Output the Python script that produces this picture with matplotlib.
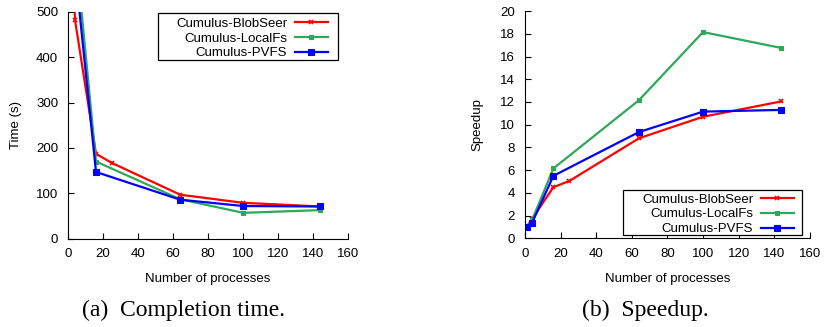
import matplotlib
matplotlib.use("Agg")
import matplotlib.pyplot as plt
from matplotlib.patches import Rectangle

# number of processes
procs = [1, 4, 16, 25, 64, 100, 144]
procs_short = [1, 4, 16, 64, 100, 144]

# completion time (s)
time_blobseer = [850, 482, 187, 167, 97, 79, 71]
time_localfs = [1040, 650, 170, 87, 57, 63]
time_pvfs = [805, 596, 147, 86, 72, 71]

# speedup
speedup_blobseer = [1.0, 1.7, 4.5, 5.05, 8.8, 10.7, 12.05]
speedup_localfs = [1.0, 1.6, 6.15, 12.15, 18.15, 16.75]
speedup_pvfs = [1.0, 1.35, 5.5, 9.35, 11.15, 11.3]

labels = ["Cumulus-BlobSeer", "Cumulus-LocalFs", "Cumulus-PVFS"]
colors = ["#ff0000", "#2fa85a", "#0000ff"]

plt.rcParams['font.family'] = ['Liberation Sans', 'DejaVu Sans']
plt.rcParams['font.size'] = 9.5

fig = plt.figure(figsize=(8.24, 3.27), dpi=100)
ax1 = fig.add_axes([0.0825, 0.270, 0.3403, 0.694])
ax2 = fig.add_axes([0.637, 0.2712, 0.3459, 0.695])


def draw(ax, ys, xs):
    styles = [dict(marker='x', ms=3, mew=1.2),
              dict(marker='s', ms=2.2, mew=0.8),
              dict(marker='s', ms=4.3, mew=0.8)]
    for y, x, lab, c, st in zip(ys, xs, labels, colors, styles):
        ax.plot(x, y, color=c, lw=1.6, label=lab, **st)
    for s in ['top', 'right']:
        ax.spines[s].set_visible(False)
    ax.tick_params(direction='in', length=4, width=0.8, pad=7)
    ax.set_xlim(0, 160)
    ax.set_xticks(range(0, 161, 20))
    ax.set_xlabel("Number of processes", labelpad=9)


def legend_box(ax, box, anchor, loc):
    # gnuplot style key: text right aligned, sample line on the right
    x0, y0, x1, y1 = box
    ax.add_patch(Rectangle((x0, y0), x1 - x0, y1 - y0, transform=ax.transAxes,
                           facecolor='white', edgecolor='black', lw=0.9,
                           zorder=4.5, clip_on=False))
    ax.legend(loc=loc, bbox_to_anchor=anchor, borderaxespad=0, borderpad=0,
              markerfirst=False, frameon=False, handlelength=2.5,
              labelspacing=0.2, handletextpad=0.6)


draw(ax1, [time_blobseer, time_localfs, time_pvfs], [procs, procs_short, procs_short])
ax1.set_ylim(0, 500)
ax1.set_yticks(range(0, 501, 100))
ax1.set_ylabel("Time (s)", labelpad=10)
legend_box(ax1, (0.321, 0.787, 0.963, 0.994), (0.927, 0.975), 'upper right')

draw(ax2, [speedup_blobseer, speedup_localfs, speedup_pvfs], [procs, procs_short, procs_short])
ax2.set_ylim(0, 20)
ax2.set_yticks(range(0, 21, 2))
ax2.set_ylabel("Speedup", labelpad=12)
legend_box(ax2, (0.344, 0.0145, 0.972, 0.2125), (0.944, 0.198), 'upper right')

fig.text(183 / 824, 1 - 310 / 327, "(a)  Completion time.", ha='center', va='center',
         family='Liberation Serif', fontsize=17)
fig.text(645 / 824, 1 - 310 / 327, "(b)  Speedup.", ha='center', va='center',
         family='Liberation Serif', fontsize=17)

fig.savefig("out.png", dpi=100)
